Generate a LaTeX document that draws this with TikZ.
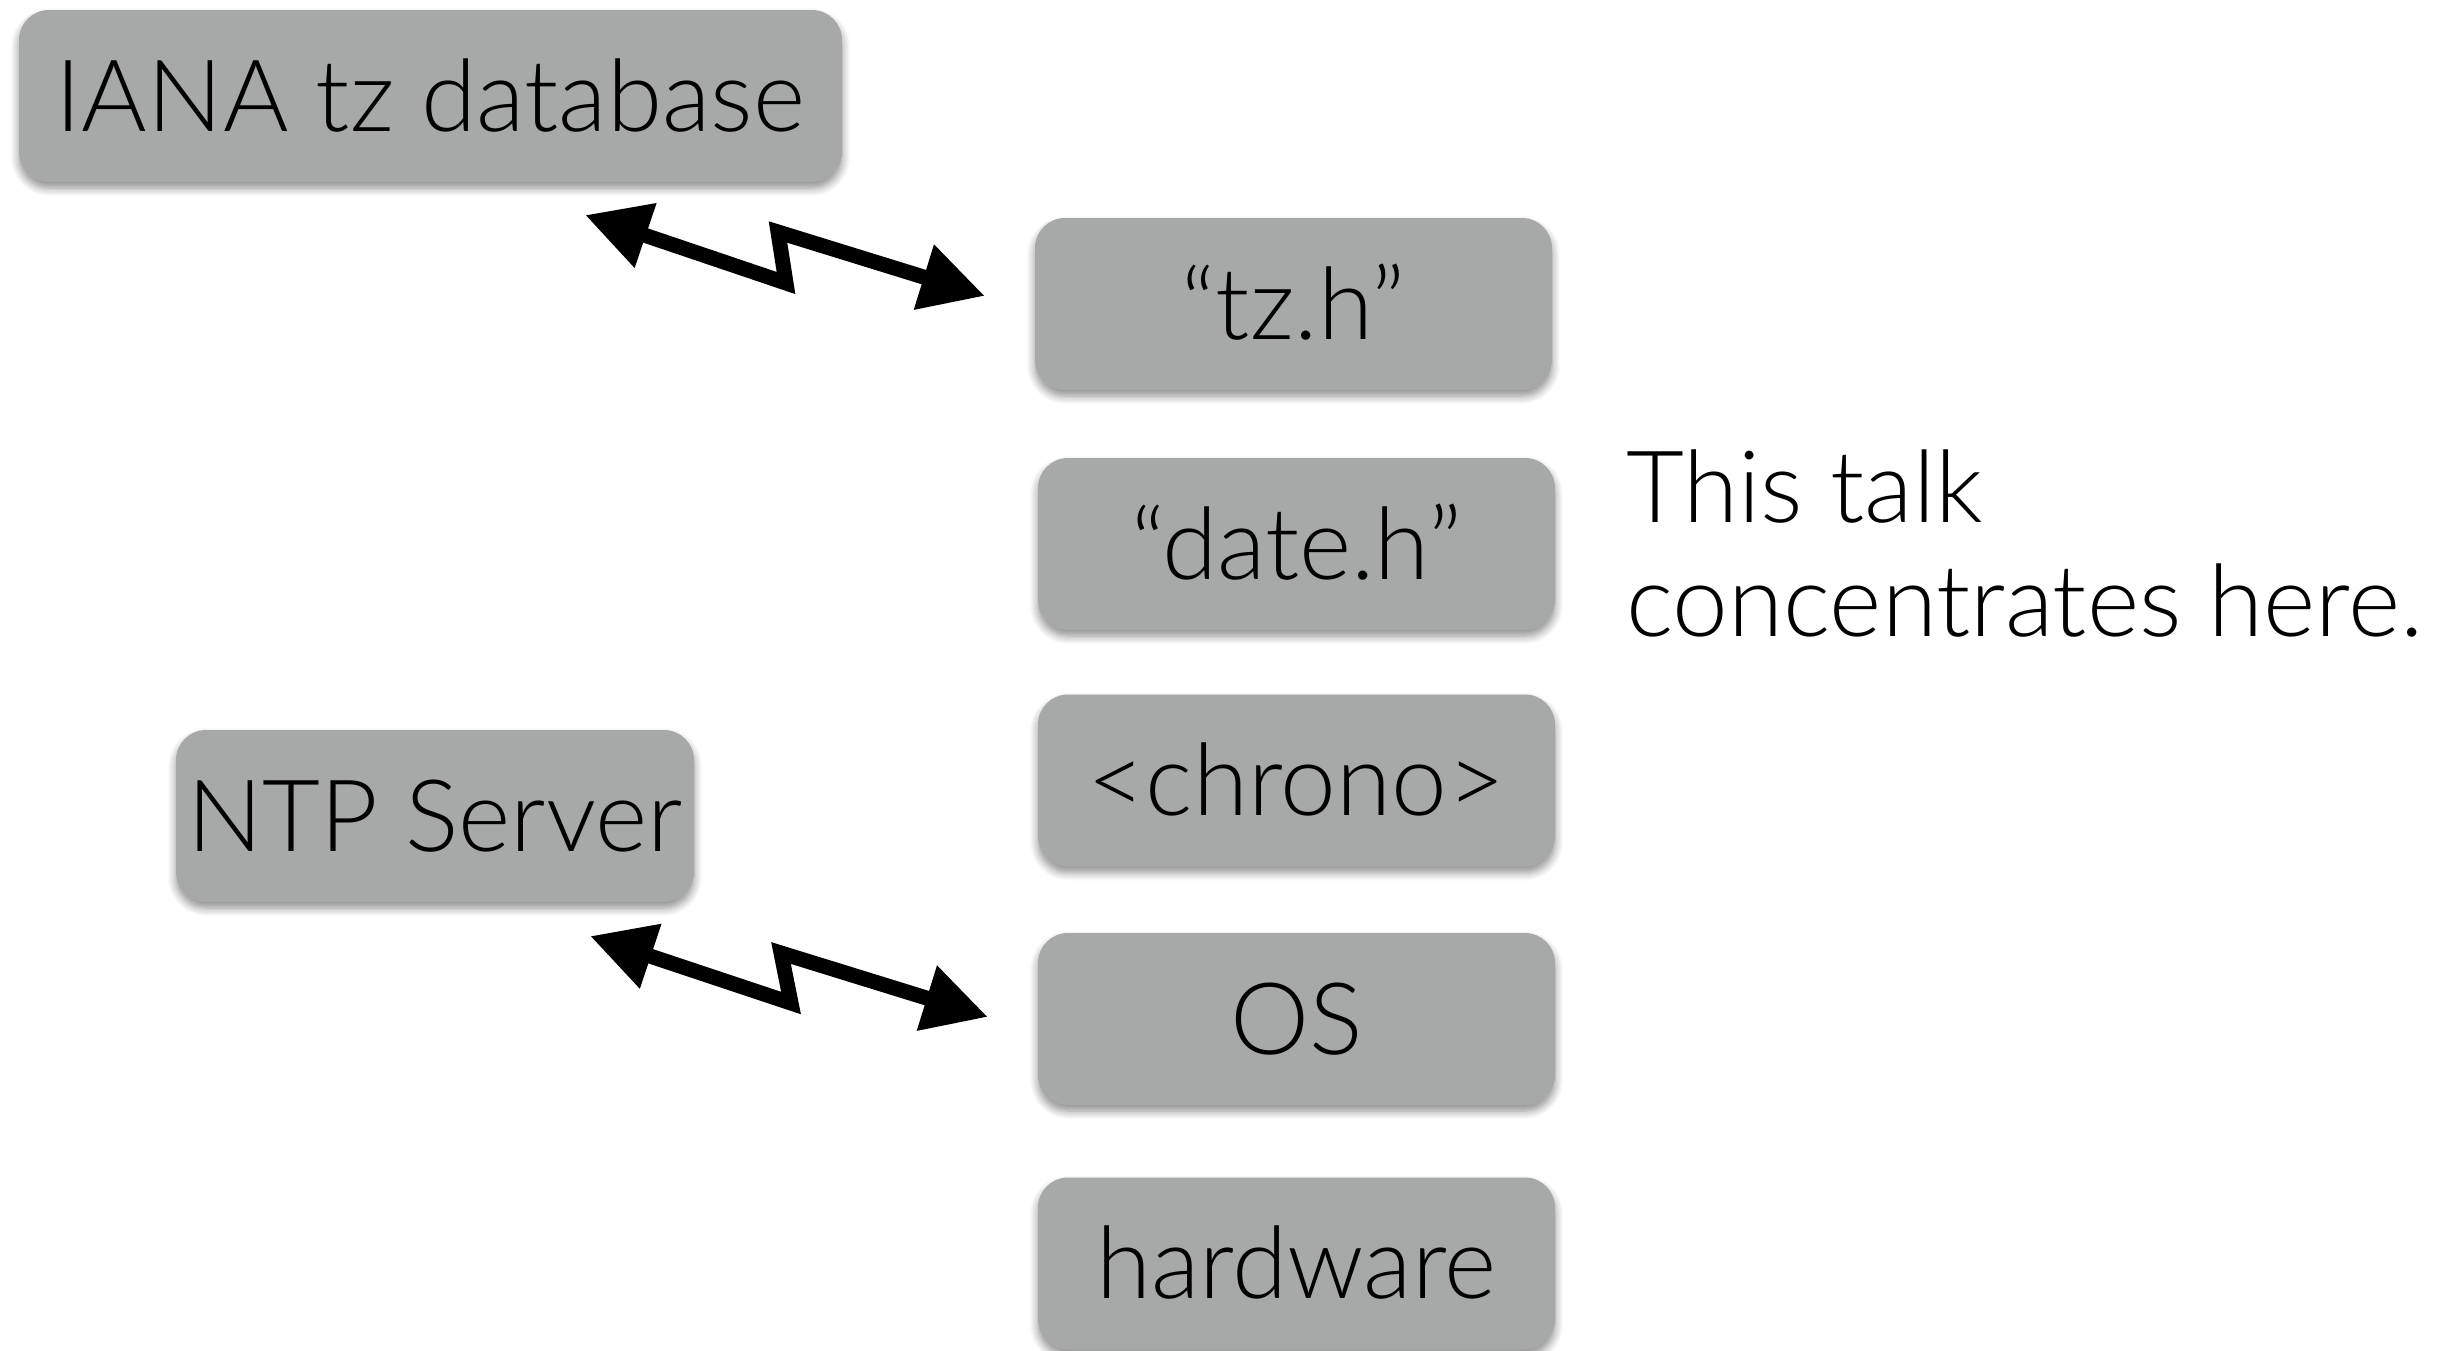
\documentclass[tikz,border=0pt]{standalone}
\usepackage{fontspec}
\setmainfont{Lato Light}
\usetikzlibrary{arrows.meta,shadows.blur}

\definecolor{boxgray}{RGB}{166,169,168}

\tikzset{
  layer/.style={
    fill=boxgray, draw=none, rounded corners=15pt,
    minimum width=258.5pt, minimum height=86pt,
    inner sep=0pt, text height=35pt, text depth=0pt,
    font=\fontsize{50}{57}\selectfont,
    blur shadow={shadow xshift=0pt, shadow yshift=-3pt, shadow blur radius=4pt,
      shadow blur steps=8, shadow opacity=45}
  },
  note/.style={inner sep=0pt, anchor=base west, font=\fontsize{50}{57}\selectfont},
  zigzag/.style={
    line width=7.5pt, line join=miter,
    {Triangle[length=32pt,width=32pt]}-{Triangle[length=32pt,width=32pt]}
  }
}

\begin{document}
\begin{tikzpicture}[x=0.5pt, y=-0.5pt]
  \useasboundingbox (0,0) rectangle (2458,1350);

  % external sources
  \node[layer, minimum width=411.5pt] (iana) at (430.5,96) {IANA tz database};
  \node[layer, minimum width=259pt] (ntp) at (435,816) {NTP Server};

  % the stack
  \node[layer] (tzh)    at (1293.5,304)  {“tz.h”};
  \node[layer] (dateh)  at (1296.5,544)  {“date.h”};
  \node[layer] (chrono) at (1296.5,780.5){<chrono>};
  \node[layer] (os)     at (1296.5,1019) {OS};
  \node[layer] (hw)     at (1296.5,1263.5){hardware};

  % remark
  \node[note] (talka) at (1626,522) {This talk};
  \node[note] (talkb) at (1626,636) {concentrates here.};

  % zig-zag links
  \coordinate (a1) at (585,215);
  \coordinate (a2) at (786,283);
  \coordinate (a3) at (778,232);
  \coordinate (a4) at (985,296);
  \draw[zigzag] (a1) -- (a2) -- (a3) -- (a4);

  \coordinate (b1) at (590,936);
  \coordinate (b2) at (791,1003);
  \coordinate (b3) at (781,953);
  \coordinate (b4) at (988,1017);
  \draw[zigzag] (b1) -- (b2) -- (b3) -- (b4);
\end{tikzpicture}
\end{document}
